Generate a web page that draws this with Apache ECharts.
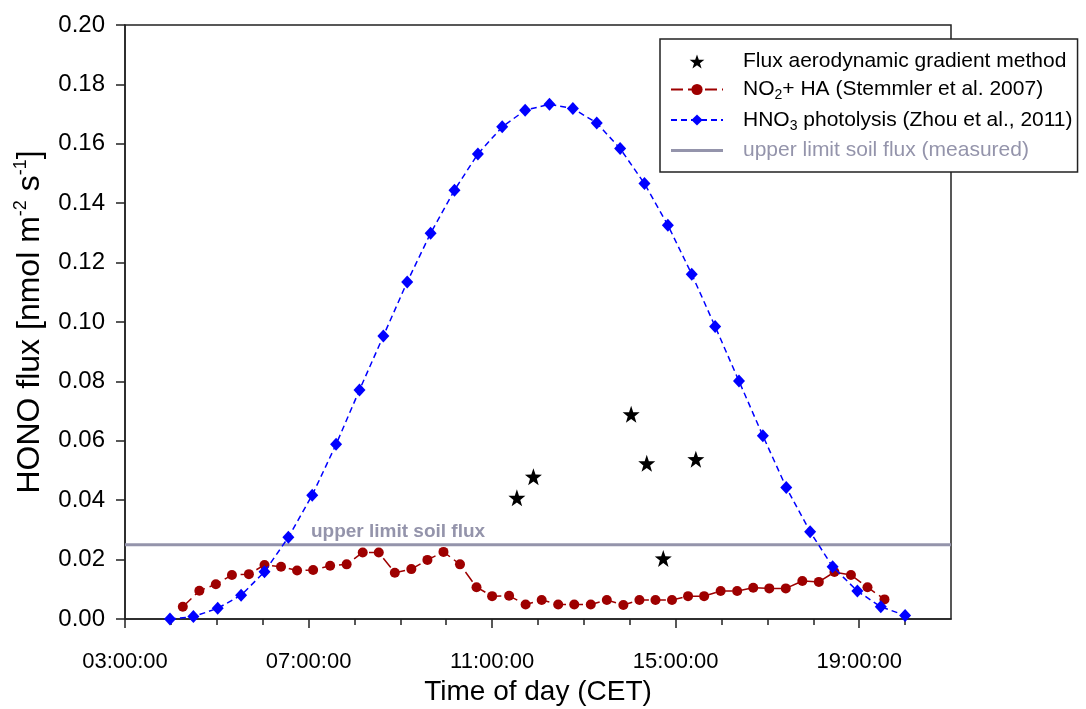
<!DOCTYPE html>
<html>
<head>
<meta charset="utf-8">
<script src="https://cdn.jsdelivr.net/npm/echarts@6/dist/echarts.min.js"></script>
<style>
  html, body { margin: 0; padding: 0; background: #fff; }
  #main { width: 1086px; height: 709px; }
</style>
</head>
<body>
<div id="main"></div>
<script>
// hours of day (CET, decimal) and flux values [nmol m-2 s-1]
const starHours = [11.54, 11.90, 14.03, 14.37, 14.73, 15.44]
const starFlux = [0.0408, 0.0479, 0.0689, 0.0524, 0.0204, 0.0538]

const no2Hours = [4.26, 4.62, 4.98, 5.33, 5.70, 6.04, 6.40, 6.75, 7.10, 7.47, 7.83,
  8.18, 8.53, 8.88, 9.24, 9.59, 9.94, 10.30, 10.66, 11.00, 11.37, 11.73,
  12.08, 12.44, 12.79, 13.15, 13.50, 13.86, 14.21, 14.56, 14.92, 15.27, 15.62,
  15.98, 16.34, 16.69, 17.04, 17.40, 17.76, 18.12, 18.46, 18.82, 19.18, 19.55]
const no2Flux = [0.0041, 0.0095, 0.0117, 0.0148, 0.0151, 0.0182, 0.0176, 0.0163, 0.0165, 0.0179, 0.0184,
  0.0224, 0.0224, 0.0156, 0.0168, 0.0199, 0.0226, 0.0184, 0.0107, 0.0077, 0.0078, 0.0049,
  0.0064, 0.0049, 0.0049, 0.0049, 0.0064, 0.0047, 0.0064, 0.0064, 0.0064, 0.0077, 0.0077,
  0.0094, 0.0094, 0.0105, 0.0103, 0.0103, 0.0128, 0.0125, 0.0158, 0.0148, 0.0107, 0.0066]

const hno3Hours = [3.98, 4.49, 5.02, 5.53, 6.04, 6.56, 7.08, 7.60, 8.11, 8.63, 9.15,
  9.66, 10.18, 10.69, 11.22, 11.72, 12.25, 12.76, 13.28, 13.79, 14.32, 14.83,
  15.35, 15.86, 16.38, 16.90, 17.41, 17.93, 18.42, 18.96, 19.47, 20.00]
const hno3Flux = [0.0000, 0.0008, 0.0036, 0.0080, 0.0159, 0.0275, 0.0417, 0.0588, 0.0771, 0.0953, 0.1135,
  0.1299, 0.1444, 0.1566, 0.1657, 0.1713, 0.1733, 0.1719, 0.1670, 0.1584, 0.1466, 0.1326,
  0.1161, 0.0985, 0.0801, 0.0617, 0.0443, 0.0294, 0.0176, 0.0094, 0.0041, 0.0012]

const soilLimit = 0.025
const hourRange = [3, 21]
const majorHours = [3, 7, 11, 15, 19]
const minorHours = [4, 5, 6, 8, 9, 10, 12, 13, 14, 16, 17, 18, 20]

const FONT = 'Liberation Sans, Arial, sans-serif'
const GREY = '#9494ab'
const STAR = 'path://M0,-10 L2.35,-3.24 L9.51,-3.09 L3.8,1.24 L5.88,8.09 L0,4 L-5.88,8.09 L-3.8,1.24 L-9.51,-3.09 L-2.35,-3.24 Z'
const BAR = 'path://M0,0 L52,0 L52,3 L0,3 Z'

const nameStar = 'Flux aerodynamic gradient method'
const nameNo2 = 'NO2+ HA (Stemmler et al. 2007)'
const nameHno3 = 'HNO3 photolysis (Zhou et al., 2011)'
const nameLimit = 'upper limit soil flux (measured)'

function pair(xs, ys) {
  return xs.map((x, i) => [x, ys[i]])
}
function hhmm(h) {
  return (h < 10 ? '0' + h : '' + h) + ':00:00'
}

const chart = echarts.init(document.getElementById('main'))
chart.setOption({
  animation: false,
  backgroundColor: '#fff',
  textStyle: { fontFamily: FONT },
  grid: {
    left: 125, right: 135, top: 25, bottom: 90,
    show: true, borderColor: '#222', borderWidth: 1.5,
    outerBoundsMode: 'none'
  },
  legend: {
    orient: 'vertical',
    left: 660, top: 39,
    padding: [12, 5, 11, 10],
    itemGap: 7,
    itemWidth: 52, itemHeight: 14,
    backgroundColor: '#fff',
    borderColor: '#222', borderWidth: 1.5, borderRadius: 0,
    textStyle: {
      fontSize: 21, color: '#000', fontFamily: FONT,
      padding: [0, 0, 0, 15],
      rich: {
        sub: { fontSize: 14, verticalAlign: 'bottom', padding: [12, 0, 0, 0] }
      }
    },
    formatter: function (name) {
      if (name === nameNo2) return 'NO{sub|2}+ HA (Stemmler et al. 2007)'
      if (name === nameHno3) return 'HNO{sub|3} photolysis (Zhou et al., 2011)'
      return name
    },
    data: [
      { name: nameStar, icon: STAR, itemStyle: { opacity: 1 } },
      { name: nameNo2 },
      { name: nameHno3 },
      { name: nameLimit, icon: BAR, textStyle: { color: GREY } }
    ]
  },
  xAxis: [{
    type: 'value',
    min: hourRange[0], max: hourRange[1],
    name: 'Time of day (CET)',
    nameLocation: 'middle',
    nameGap: 57,
    nameTextStyle: { fontSize: 28, color: '#000' },
    axisLine: { lineStyle: { color: '#222', width: 1.5 } },
    axisTick: { show: true, customValues: majorHours, length: 9, lineStyle: { color: '#222', width: 1.5 } },
    axisLabel: {
      customValues: majorHours,
      fontSize: 22, color: '#000', margin: 32,
      formatter: v => hhmm(v)
    },
    splitLine: { show: false }
  }, {
    type: 'value',
    min: hourRange[0], max: hourRange[1],
    position: 'bottom',
    axisLine: { show: false },
    axisTick: { show: true, customValues: minorHours, length: 6, lineStyle: { color: '#222', width: 1.5 } },
    axisLabel: { show: false },
    splitLine: { show: false }
  }],
  yAxis: {
    type: 'value',
    min: 0, max: 0.2, interval: 0.02,
    name: '{a|HONO flux [nmol m}{s|-2}{a| s}{s|-1}{a|]}',
    nameLocation: 'middle',
    nameGap: 77,
    nameTextStyle: {
      color: '#000',
      rich: {
        a: { fontSize: 32, fontFamily: FONT, color: '#000', lineHeight: 36 },
        s: { fontSize: 18, fontFamily: FONT, color: '#000', verticalAlign: 'top', lineHeight: 36 }
      }
    },
    axisLine: { lineStyle: { color: '#222', width: 1.5 } },
    axisTick: { length: 9, lineStyle: { color: '#222', width: 1.5 } },
    axisLabel: {
      fontSize: 24, color: '#000', margin: 20,
      formatter: v => v.toFixed(2)
    },
    splitLine: { show: false }
  },
  series: [
    {
      name: nameLimit,
      type: 'line',
      data: pair(hourRange, [soilLimit, soilLimit]),
      symbol: 'none',
      lineStyle: { color: GREY, width: 3 },
      itemStyle: { color: GREY },
      z: 1,
      markPoint: {
        symbol: 'circle', symbolSize: 1,
        itemStyle: { color: 'rgba(0,0,0,0)' },
        label: {
          show: true, position: 'top', distance: 3,
          formatter: 'upper limit soil flux',
          fontSize: 19, fontWeight: 'bold', color: GREY, fontFamily: FONT
        },
        data: [{ coord: [8.95, soilLimit] }]
      }
    },
    {
      name: nameNo2,
      type: 'line',
      data: pair(no2Hours, no2Flux),
      symbol: 'circle', symbolSize: 10,
      lineStyle: { color: '#9e0000', width: 1.5, type: [12, 5] },
      itemStyle: { color: '#9e0000' },
      z: 3
    },
    {
      name: nameHno3,
      type: 'line',
      data: pair(hno3Hours, hno3Flux),
      symbol: 'diamond', symbolSize: [12, 13],
      lineStyle: { color: '#0000ff', width: 1.5, type: [6, 4] },
      itemStyle: { color: '#0000ff' },
      z: 4
    },
    {
      name: nameStar,
      type: 'scatter',
      data: pair(starHours, starFlux),
      symbol: STAR, symbolSize: 17,
      itemStyle: { color: '#000', opacity: 1 },
      z: 5
    }
  ]
})
</script>
</body>
</html>
